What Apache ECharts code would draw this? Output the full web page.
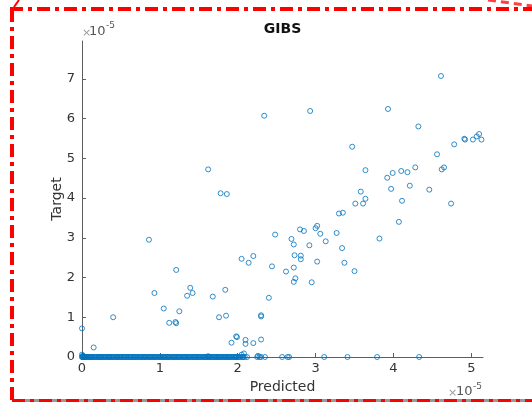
<!DOCTYPE html>
<html>
<head>
<meta charset="utf-8">
<script src="https://cdn.jsdelivr.net/npm/echarts@6/dist/echarts.min.js"></script>
<style>
  html, body { margin: 0; padding: 0; background: #fff; }
  #chart { width: 532px; height: 402px; }
</style>
</head>
<body>
<div id="chart"></div>
<script>
// Values are in units of 1e-5 (axis exponent shown as ×10^-5).
const chartTitle = 'GIBS';
const xLabel = 'Predicted';
const yLabel = 'Target';
const xTicks = [0, 1, 2, 3, 4, 5];
const yTicks = [0, 1, 2, 3, 4, 5, 6, 7];

// Samples with a non-zero target
const predicted = [
  4.61, 2.93, 2.34, 3.93, 4.32, 3.47, 1.62, 1.78, 1.86, 3.64,
  3.92, 3.99, 4.10, 4.18, 4.28, 4.56, 4.62, 4.65, 4.78, 4.91,
  4.92, 5.02, 5.07, 5.10, 5.13, 3.58, 3.64, 3.51, 3.61, 3.30,
  3.35, 3.97, 4.21, 4.11, 4.46, 4.74, 4.07, 3.82, 3.34, 3.37,
  3.50, 2.80, 2.85, 3.00, 3.02, 3.06, 3.27, 2.48, 2.69, 2.72,
  2.92, 3.13, 2.05, 2.14, 2.20, 2.44, 2.62, 2.72, 2.73, 2.81,
  2.81, 3.02, 2.72, 2.74, 2.95, 2.40, 1.84, 1.85, 2.30, 2.30,
  1.98, 1.99, 1.92, 2.10, 2.10, 2.20, 2.30, 2.05, 2.08, 2.26,
  0.86, 1.21, 0.93, 1.39, 1.42, 1.35, 1.68, 1.05, 1.25, 1.12,
  1.20, 1.21, 0.40, 1.76, 0.00, 0.15, 0.00, 0.01, 0.02, 1.62
];
const target = [
  7.07, 6.19, 6.07, 6.24, 5.80, 5.29, 4.72, 4.12, 4.10, 4.70,
  4.51, 4.63, 4.68, 4.65, 4.77, 5.10, 4.72, 4.77, 5.35, 5.49,
  5.47, 5.47, 5.55, 5.61, 5.47, 4.16, 3.98, 3.86, 3.86, 3.61,
  3.63, 4.23, 4.31, 3.93, 4.21, 3.86, 3.40, 2.98, 2.74, 2.37,
  2.16, 3.21, 3.17, 3.24, 3.30, 3.10, 3.12, 3.08, 2.97, 2.83,
  2.81, 2.91, 2.47, 2.37, 2.54, 2.28, 2.15, 2.25, 2.56, 2.55,
  2.46, 2.40, 1.89, 1.98, 1.88, 1.49, 1.69, 1.04, 1.05, 1.02,
  0.52, 0.50, 0.36, 0.43, 0.33, 0.35, 0.44, 0.06, 0.09, 0.03,
  2.95, 2.19, 1.61, 1.74, 1.61, 1.54, 1.52, 1.22, 1.15, 0.86,
  0.88, 0.85, 1.00, 1.00, 0.72, 0.24, 0.06, 0.03, 0.02, 0.02
];

// Samples whose target is zero (predicted values only)
const predictedAtZeroTarget = [
  0.00, 0.005, 0.01, 0.02, 0.03, 0.035, 0.04, 0.05, 0.06, 0.07,
  0.08, 0.09, 0.10, 0.11, 0.12, 0.13, 0.145, 0.16, 0.17, 0.18,
  0.195, 0.21, 0.22, 0.23, 0.245, 0.25, 0.265, 0.28, 0.29, 0.30,
  0.315, 0.33, 0.34, 0.35, 0.36, 0.37, 0.385, 0.40, 0.41, 0.43,
  0.44, 0.45, 0.46, 0.47, 0.485, 0.50, 0.51, 0.53, 0.54, 0.55,
  0.565, 0.58, 0.59, 0.61, 0.62, 0.63, 0.645, 0.66, 0.67, 0.68,
  0.695, 0.71, 0.72, 0.74, 0.75, 0.76, 0.775, 0.79, 0.80, 0.81,
  0.825, 0.84, 0.855, 0.87, 0.88, 0.89, 0.905, 0.92, 0.93, 0.94,
  0.955, 0.97, 0.985, 1.00, 1.01, 1.02, 1.035, 1.05, 1.06, 1.07,
  1.085, 1.10, 1.11, 1.12, 1.135, 1.15, 1.165, 1.18, 1.19, 1.20,
  1.215, 1.23, 1.24, 1.25, 1.265, 1.28, 1.295, 1.31, 1.32, 1.33,
  1.345, 1.36, 1.37, 1.38, 1.395, 1.41, 1.425, 1.44, 1.45, 1.46,
  1.475, 1.49, 1.50, 1.51, 1.525, 1.54, 1.555, 1.57, 1.58, 1.59,
  1.605, 1.62, 1.63, 1.64, 1.655, 1.67, 1.685, 1.70, 1.71, 1.72,
  1.735, 1.75, 1.76, 1.77, 1.785, 1.80, 1.815, 1.83, 1.84, 1.85,
  1.865, 1.88, 1.89, 1.90, 1.915, 1.93, 1.945, 1.96, 1.97, 1.98,
  1.99, 2.01, 2.02, 2.04, 2.06, 2.07, 2.09, 2.12, 2.25, 2.28,
  2.30, 2.35, 2.57, 2.64, 2.66, 3.11, 3.41, 3.79, 4.33
];

const points = predicted.map((p, i) => [p, target[i]])
  .concat(predictedAtZeroTarget.map(p => [p, 0]));

const axisColor = '#5e5e5e';
const textColor = '#333333';
const font = 'DejaVu Sans';

const gridLeft = 82, gridRight = 49, gridTop = 41, gridBottom = 45;
const W = 532, H = 402;
const plotCenterX = gridLeft + (W - gridLeft - gridRight) / 2;
const plotCenterY = gridTop + (H - gridTop - gridBottom) / 2;

const dash = [13, 5, 4, 5];

const chart = echarts.init(document.getElementById('chart'), null, { renderer: 'canvas' });
chart.setOption({
  animation: false,
  backgroundColor: '#ffffff',
  grid: { left: gridLeft, right: gridRight, top: gridTop, bottom: gridBottom },
  xAxis: {
    type: 'value', min: 0, max: 5.15,
    axisLine: { show: true, lineStyle: { color: axisColor, width: 1 } },
    axisTick: { show: true, inside: true, length: 4, customValues: xTicks, lineStyle: { color: axisColor } },
    axisLabel: { customValues: xTicks, color: textColor, fontFamily: font, fontSize: 13, margin: 5 },
    splitLine: { show: false }
  },
  yAxis: {
    type: 'value', min: 0, max: 7.95,
    axisLine: { show: true, lineStyle: { color: axisColor, width: 1 } },
    axisTick: { show: true, inside: true, length: 4, customValues: yTicks, lineStyle: { color: axisColor } },
    axisLabel: { customValues: yTicks, color: textColor, fontFamily: font, fontSize: 13, margin: 7 },
    splitLine: { show: false }
  },
  series: [{
    type: 'scatter',
    data: points,
    symbol: 'circle',
    symbolSize: 5,
    clip: false,
    itemStyle: { color: 'rgba(0,0,0,0)', borderColor: '#0072BD', borderWidth: 1 }
  }],
  graphic: [
    { type: 'text', x: plotCenterX, y: 29, style: { text: chartTitle, font: 'bold 14px "DejaVu Sans"', fill: '#111', align: 'center', verticalAlign: 'middle' } },
    { type: 'text', x: plotCenterX, y: 387, style: { text: xLabel, font: '14px "DejaVu Sans"', fill: textColor, align: 'center', verticalAlign: 'middle' } },
    { type: 'text', x: 57, y: plotCenterY, rotation: Math.PI / 2, style: { text: yLabel, font: '14px "DejaVu Sans"', fill: textColor, align: 'center', verticalAlign: 'middle' } },
    // exponent markers
    { type: 'text', x: 82, y: 33, style: { text: '×', font: '11px "DejaVu Sans"', fill: '#9a9a9a', align: 'left', verticalAlign: 'middle' } },
    { type: 'text', x: 89, y: 31.5, style: { text: '10', font: '13px "DejaVu Sans"', fill: '#555', align: 'left', verticalAlign: 'middle' } },
    { type: 'text', x: 106, y: 26, style: { text: '-5', font: '9px "DejaVu Sans"', fill: '#555', align: 'left', verticalAlign: 'middle' } },
    { type: 'text', x: 448, y: 393, style: { text: '×', font: '11px "DejaVu Sans"', fill: '#9a9a9a', align: 'left', verticalAlign: 'middle' } },
    { type: 'text', x: 456, y: 392, style: { text: '10', font: '13px "DejaVu Sans"', fill: '#555', align: 'left', verticalAlign: 'middle' } },
    { type: 'text', x: 473, y: 386.5, style: { text: '-5', font: '9px "DejaVu Sans"', fill: '#555', align: 'left', verticalAlign: 'middle' } },
    // dash-dot frame
    { type: 'line', z: 100, shape: { x1: 12, y1: 400.5, x2: 532, y2: 400.5 }, style: { stroke: '#9a9a9a', lineWidth: 3 } },
    { type: 'line', z: 101, shape: { x1: 12, y1: 400.5, x2: 532, y2: 400.5 }, style: { stroke: '#ff0000', lineWidth: 3, lineDash: dash } },
    { type: 'line', z: 101, shape: { x1: 10, y1: 9, x2: 532, y2: 9 }, style: { stroke: '#ff0000', lineWidth: 4, lineDash: dash } },
    { type: 'line', z: 101, shape: { x1: 12, y1: 9, x2: 12, y2: 402 }, style: { stroke: '#ff0000', lineWidth: 4, lineDash: dash } },
    { type: 'line', z: 101, shape: { x1: 14, y1: 7, x2: 19, y2: 0 }, style: { stroke: '#ff0000', lineWidth: 2 } },
    { type: 'line', z: 101, shape: { x1: 488, y1: 0, x2: 532, y2: 6 }, style: { stroke: 'rgba(255,0,0,0.75)', lineWidth: 3, lineDash: [8, 5] } }
  ]
});
</script>
</body>
</html>
